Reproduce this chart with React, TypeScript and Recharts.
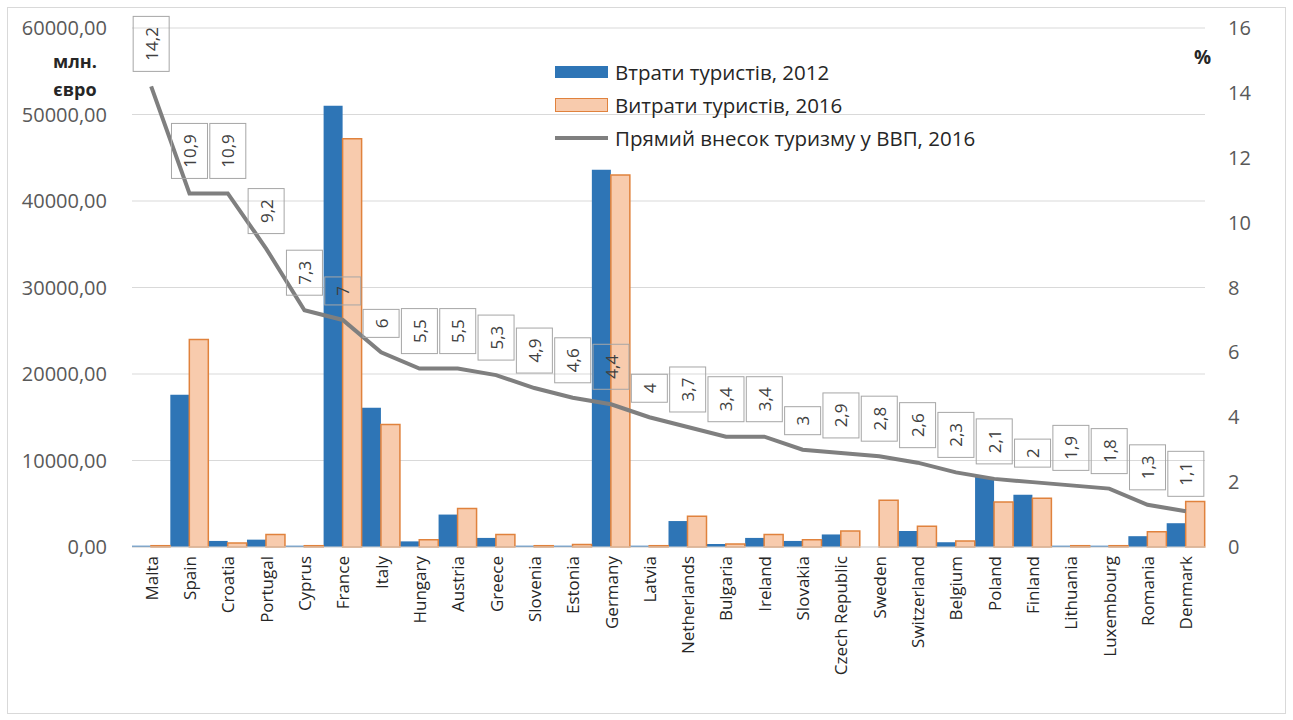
import React from 'react';
import { ComposedChart, Bar, Line, XAxis, YAxis, CartesianGrid, Legend, LabelList } from 'recharts';

const categories = ['Malta', 'Spain', 'Croatia', 'Portugal', 'Cyprus', 'France', 'Italy', 'Hungary', 'Austria', 'Greece', 'Slovenia', 'Estonia', 'Germany', 'Latvia', 'Netherlands', 'Bulgaria', 'Ireland', 'Slovakia', 'Czech Republic', 'Sweden', 'Switzerland', 'Belgium', 'Poland', 'Finland', 'Lithuania', 'Luxembourg', 'Romania', 'Denmark'];
const spending2012 = [150, 17600, 700, 850, 150, 51000, 16100, 650, 3750, 1050, 150, 150, 43600, 150, 3000, 350, 1050, 700, 1450, 0, 1850, 550, 8100, 6050, 150, 150, 1250, 2750];
const spending2016 = [150, 24000, 450, 1450, 150, 47200, 14150, 850, 4450, 1450, 150, 300, 43000, 150, 3550, 350, 1450, 850, 1850, 5400, 2400, 700, 5200, 5650, 150, 150, 1750, 5250];
const gdpShare2016 = [14.2, 10.9, 10.9, 9.2, 7.3, 7, 6, 5.5, 5.5, 5.3, 4.9, 4.6, 4.4, 4, 3.7, 3.4, 3.4, 3, 2.9, 2.8, 2.6, 2.3, 2.1, 2, 1.9, 1.8, 1.3, 1.1];
const seriesNames = ['Втрати туристів, 2012', 'Витрати туристів, 2016', 'Прямий внесок туризму у ВВП, 2016'];
const leftTicks = [0, 10000, 20000, 30000, 40000, 50000, 60000];
const rightTicks = [0, 2, 4, 6, 8, 10, 12, 14, 16];

const data = categories.map((c, i) => ({
  country: c,
  s2012: spending2012[i],
  s2016: spending2016[i],
  gdp: gdpShare2016[i],
}));

const FONT = "'Open Sans', sans-serif";
const BLUE = '#2e75b6';
const ORANGE_FILL = '#f8cbad';
const ORANGE_STROKE = '#e0823d';
const GREY = '#7f7f7f';
const TEXT = '#404040';

const fmtComma = (v: number) => String(v).replace('.', ',');

const BoxLabel = (props: any) => {
  const { x, y, value } = props;
  if (x == null || y == null) return null;
  const s = fmtComma(value);
  let len = 0;
  for (const ch of s) len += ch === ',' ? 7 : 10;
  const h = 18 + len;
  const w = 36;
  const bottom = y - 15;
  const cy = bottom - h / 2;
  return (
    <g>
      <rect x={x - w / 2} y={bottom - h} width={w} height={h} fill="none" stroke="#a6a6a6" strokeWidth={1} />
      <text
        x={x}
        y={cy}
        transform={`rotate(-90, ${x}, ${cy})`}
        textAnchor="middle"
        dominantBaseline="central"
        fontFamily={FONT}
        fontSize={17}
        fill={TEXT}
      >
        {s}
      </text>
    </g>
  );
};

const CategoryTick = (props: any) => {
  const { x, y, payload } = props;
  const ty = y + 9;
  return (
    <text
      x={x}
      y={ty}
      transform={`rotate(-90, ${x}, ${ty})`}
      textAnchor="end"
      dominantBaseline="central"
      fontFamily={FONT}
      fontSize={17}
      fill="#262626"
    >
      {payload.value}
    </text>
  );
};

const renderLegend = () => (
  <div style={{ fontFamily: FONT, fontSize: 20.5, color: '#262626' }}>
    {seriesNames.map((name, i) => (
      <div key={name} style={{ height: 33, display: 'flex', alignItems: 'center' }}>
        <div style={{ width: 53, height: 14, display: 'flex', alignItems: 'center', marginRight: 7 }}>
          {i === 0 && <div style={{ width: 53, height: 12, background: BLUE }} />}
          {i === 1 && (
            <div style={{ width: 51, height: 12, background: ORANGE_FILL, border: `1.5px solid ${ORANGE_STROKE}` }} />
          )}
          {i === 2 && <div style={{ width: 53, height: 4, background: GREY }} />}
        </div>
        <span style={{ whiteSpace: 'nowrap' }}>{name}</span>
      </div>
    ))}
  </div>
);

export default function App() {
  return (
    <div style={{ position: 'absolute', left: 0, top: 0, width: 1293, height: 720, background: '#fff' }}>
      <div
        style={{
          position: 'absolute',
          left: 7,
          top: 7,
          width: 1279,
          height: 707,
          border: '1px solid #d9d9d9',
          boxSizing: 'border-box',
        }}
      />
      <ComposedChart
        width={1293}
        height={720}
        data={data}
        margin={{ top: 28, right: 0, bottom: 0, left: 0 }}
        barCategoryGap={0}
        barGap={0}
        style={{ position: 'absolute', left: 0, top: 0 }}
      >
        <CartesianGrid yAxisId="left" vertical={false} stroke="#d9d9d9" strokeWidth={1} />
        <XAxis
          dataKey="country"
          interval={0}
          height={173}
          tickLine={false}
          axisLine={{ stroke: '#d9d9d9' }}
          tickSize={0}
          tickMargin={0}
          tick={<CategoryTick />}
        />
        <YAxis
          yAxisId="left"
          orientation="left"
          width={132}
          domain={[0, 60000]}
          ticks={leftTicks}
          interval={0}
          tickFormatter={(v: number) => v.toFixed(2).replace('.', ',')}
          axisLine={false}
          tickLine={false}
          tickSize={0}
          tickMargin={25}
          tick={{ fontFamily: FONT, fontSize: 20, fill: '#595959' }}
        />
        <YAxis
          yAxisId="right"
          orientation="right"
          width={88}
          domain={[0, 16]}
          ticks={rightTicks}
          interval={0}
          axisLine={false}
          tickLine={false}
          tickSize={0}
          tickMargin={23}
          tick={{ fontFamily: FONT, fontSize: 20, fill: '#595959', textAnchor: 'start' }}
        />
        <Legend
          layout="vertical"
          align="center"
          verticalAlign="middle"
          content={renderLegend}
          wrapperStyle={{ left: 555, top: 55, width: 480 }}
        />
        <Bar yAxisId="left" dataKey="s2012" name={seriesNames[0]} fill={BLUE} isAnimationActive={false} />
        <Bar
          yAxisId="left"
          dataKey="s2016"
          name={seriesNames[1]}
          fill={ORANGE_FILL}
          stroke={ORANGE_STROKE}
          strokeWidth={1.5}
          isAnimationActive={false}
        />
        <Line
          yAxisId="right"
          dataKey="gdp"
          name={seriesNames[2]}
          type="linear"
          stroke={GREY}
          strokeWidth={4}
          dot={false}
          activeDot={false}
          isAnimationActive={false}
        >
          <LabelList dataKey="gdp" content={<BoxLabel />} />
        </Line>
      </ComposedChart>
      <div
        style={{
          position: 'absolute',
          left: 40,
          top: 47,
          width: 70,
          textAlign: 'center',
          fontFamily: FONT,
          fontSize: 18,
          fontWeight: 700,
          color: '#262626',
          lineHeight: '28px',
        }}
      >
        <div>млн.</div>
        <div>євро</div>
      </div>
      <div
        style={{
          position: 'absolute',
          left: 1194,
          top: 44,
          fontFamily: FONT,
          fontSize: 19,
          fontWeight: 700,
          color: '#262626',
        }}
      >
        %
      </div>
    </div>
  );
}
